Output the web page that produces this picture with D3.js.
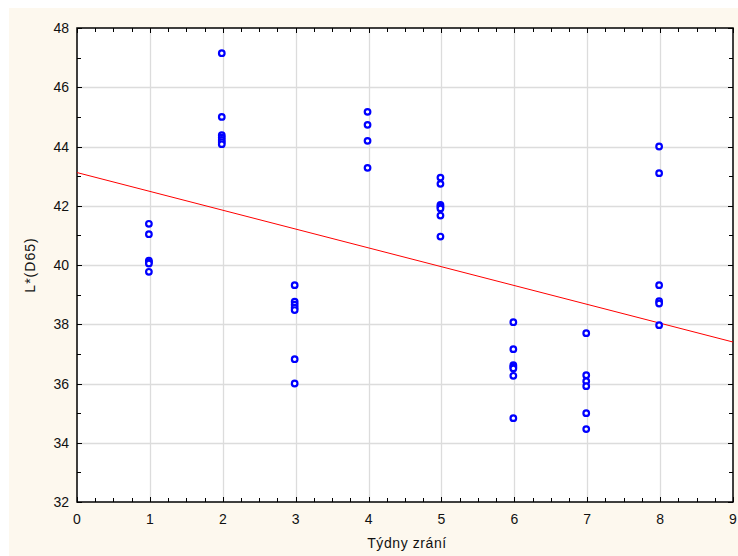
<!DOCTYPE html>
<html><head><meta charset="utf-8">
<script src="https://cdn.jsdelivr.net/npm/d3@7/dist/d3.min.js"></script>
<style>body{margin:0;background:#fff}svg{display:block}text{font-family:"Liberation Sans",Arial,sans-serif}</style>
</head><body>
<script>
const weeks = [1,1,1,1,1,1, 2,2,2,2,2,2,2, 3,3,3,3,3,3,3, 4,4,4,4, 5,5,5,5,5,5,5, 6,6,6,6,6,6,6, 7,7,7,7,7,7, 8,8,8,8,8,8];
const lValues = [41.39,41.04,40.15,40.1,40.05,39.77,
  47.15,45.0,44.38,44.3,44.22,44.15,44.08,
  39.32,38.76,38.66,38.56,38.48,36.82,36.0,
  45.17,44.73,44.19,43.28,
  42.95,42.74,42.03,41.97,41.91,41.67,40.96,
  38.07,37.16,36.62,36.56,36.51,36.26,34.83,
  37.7,36.28,36.08,35.91,35.0,34.46,
  44.0,43.1,39.32,38.78,38.7,37.97];
const fitX = [0, 9];
const fitY = [43.12, 37.40];
const xTicks = [0,1,2,3,4,5,6,7,8,9];
const yTicks = [32,34,36,38,40,42,44,46,48];
const xTitle = "Týdny zrání";
const yTitle = "L*(D65)";

const W=738,H=556;
const svg=d3.select("body").append("svg").attr("width",W).attr("height",H);
svg.append("rect").attr("x",9).attr("y",8).attr("width",W-9).attr("height",H-8).attr("fill","#fdf8ee");
const L=77,R=733,T=28,B=502;
const x=d3.scaleLinear().domain([0,9]).range([L,R]);
const y=d3.scaleLinear().domain([32,48]).range([B,T]);
svg.append("rect").attr("x",L).attr("y",T).attr("width",R-L).attr("height",B-T).attr("fill","#fff");
const g=svg.append("g");
g.selectAll(".gx").data(xTicks.slice(1,-1)).join("line").attr("x1",d=>Math.round(x(d))+0.5).attr("x2",d=>Math.round(x(d))+0.5).attr("y1",T).attr("y2",B).attr("stroke","#dcdcdc").attr("stroke-width",1.3);
g.selectAll(".gy").data(yTicks.slice(1,-1)).join("line").attr("y1",d=>Math.round(y(d))+0.5).attr("y2",d=>Math.round(y(d))+0.5).attr("x1",L).attr("x2",R).attr("stroke","#dcdcdc").attr("stroke-width",1.3);

const minorX=d3.range(0,9.001,0.25), minorY=d3.range(32,48.001,1);
function tickSet(sel, data, fn){ sel.selectAll(null).data(data).join("line").each(fn).attr("stroke","#000").attr("stroke-width",1); }
const ax=svg.append("g");
tickSet(ax, minorX, function(d){ const major=Math.abs(d-Math.round(d))<1e-6; const len=major?5:4; const px=Math.round(x(d))+0.5; d3.select(this).attr("x1",px).attr("x2",px).attr("y1",B).attr("y2",B-len);});
tickSet(ax, minorX, function(d){ const major=Math.abs(d-Math.round(d))<1e-6; const len=major?5:4; const px=Math.round(x(d))+0.5; d3.select(this).attr("x1",px).attr("x2",px).attr("y1",T).attr("y2",T+len);});
tickSet(ax, minorY, function(d){ const major=d%2===0; const len=major?5:4; const py=Math.round(y(d))+0.5; d3.select(this).attr("y1",py).attr("y2",py).attr("x1",L).attr("x2",L+len);});
tickSet(ax, minorY, function(d){ const major=d%2===0; const len=major?5:4; const py=Math.round(y(d))+0.5; d3.select(this).attr("y1",py).attr("y2",py).attr("x1",R).attr("x2",R-len);});
svg.append("rect").attr("x",L).attr("y",T).attr("width",R-L).attr("height",B-T).attr("fill","none").attr("stroke","#000").attr("stroke-width",1.5);

svg.selectAll(".xt").data(xTicks).join("text").attr("x",d=>x(d)).attr("y",B+22).attr("text-anchor","middle").attr("font-size",14).attr("fill","#111").text(d=>d);
svg.selectAll(".yt").data(yTicks).join("text").attr("x",L-8).attr("y",d=>y(d)+5).attr("text-anchor","end").attr("font-size",14).attr("fill","#111").text(d=>d);
svg.append("text").attr("x",(L+R)/2+2).attr("y",548).attr("text-anchor","middle").attr("font-size",14).attr("letter-spacing",0.6).attr("fill","#111").text(xTitle);
svg.append("text").attr("transform",`translate(35,${(T+B)/2}) rotate(-90)`).attr("text-anchor","middle").attr("font-size",14).attr("letter-spacing",1).attr("fill","#111").text(yTitle);

svg.append("line").attr("x1",x(fitX[0])).attr("y1",y(fitY[0])).attr("x2",x(fitX[1])).attr("y2",y(fitY[1])).attr("stroke","#ff0000").attr("stroke-width",1);
svg.selectAll(".pt").data(weeks.map((w,i)=>[w,lValues[i]])).join("circle").attr("cx",d=>x(d[0])-1).attr("cy",d=>y(d[1])).attr("r",2.8).attr("fill","#fff").attr("stroke","#0000ff").attr("stroke-width",2.2);
</script>
</body></html>
